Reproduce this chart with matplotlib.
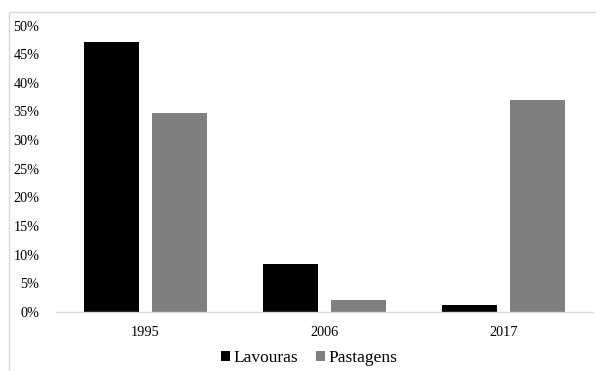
import matplotlib
matplotlib.use("Agg")
import matplotlib.pyplot as plt
import numpy as np
from matplotlib.patches import Rectangle
from matplotlib.ticker import FuncFormatter

years = ["1995", "2006", "2017"]
lavouras = [47.2, 8.3, 1.2]
pastagens = [34.7, 2.1, 37.0]
y_ticks = [0, 5, 10, 15, 20, 25, 30, 35, 40, 45, 50]

plt.rcParams["font.family"] = ["Liberation Serif", "DejaVu Serif"]

W, H = 596, 371
fig = plt.figure(figsize=(W / 100, H / 100), dpi=100)
ax = fig.add_axes([56 / W, (H - 311.7) / H, (592.7 - 56) / W, (311.7 - 25.7) / H])

x = np.arange(len(years))
width = 0.31
off = 0.19
ax.bar(x - off, lavouras, width, color="#000000", label="Lavouras")
ax.bar(x + off, pastagens, width, color="#7f7f7f", label="Pastagens")

ax.set_xlim(-0.5, len(years) - 0.5)
ax.set_ylim(0, 50)
ax.set_xticks(x)
ax.set_xticklabels(years)
ax.set_yticks(y_ticks)
ax.yaxis.set_major_formatter(FuncFormatter(lambda v, p: f"{v:.0f}%"))

for s in ["top", "right", "left"]:
    ax.spines[s].set_visible(False)
ax.spines["bottom"].set_color("#d9d9d9")
ax.spines["bottom"].set_linewidth(1.0)
ax.tick_params(axis="both", length=0, labelsize=10.3, colors="#000000")
ax.tick_params(axis="y", pad=12)
ax.tick_params(axis="x", pad=10)

leg = fig.legend(loc="center", bbox_to_anchor=(309 / W, (H - 358) / H),
                 ncol=2, frameon=False,
                 prop={"family": "Liberation Serif", "size": 12.5},
                 handlelength=0.55, handleheight=0.55, handletextpad=0.2,
                 columnspacing=1.0, borderpad=0, borderaxespad=0)

fig.patches.append(Rectangle((8.5 / W, -0.1), 1.2, (H - 11.5) / H + 0.1,
                             transform=fig.transFigure, fill=False,
                             edgecolor="#d9d9d9", linewidth=1.0))

fig.savefig("out.png", dpi=100)
